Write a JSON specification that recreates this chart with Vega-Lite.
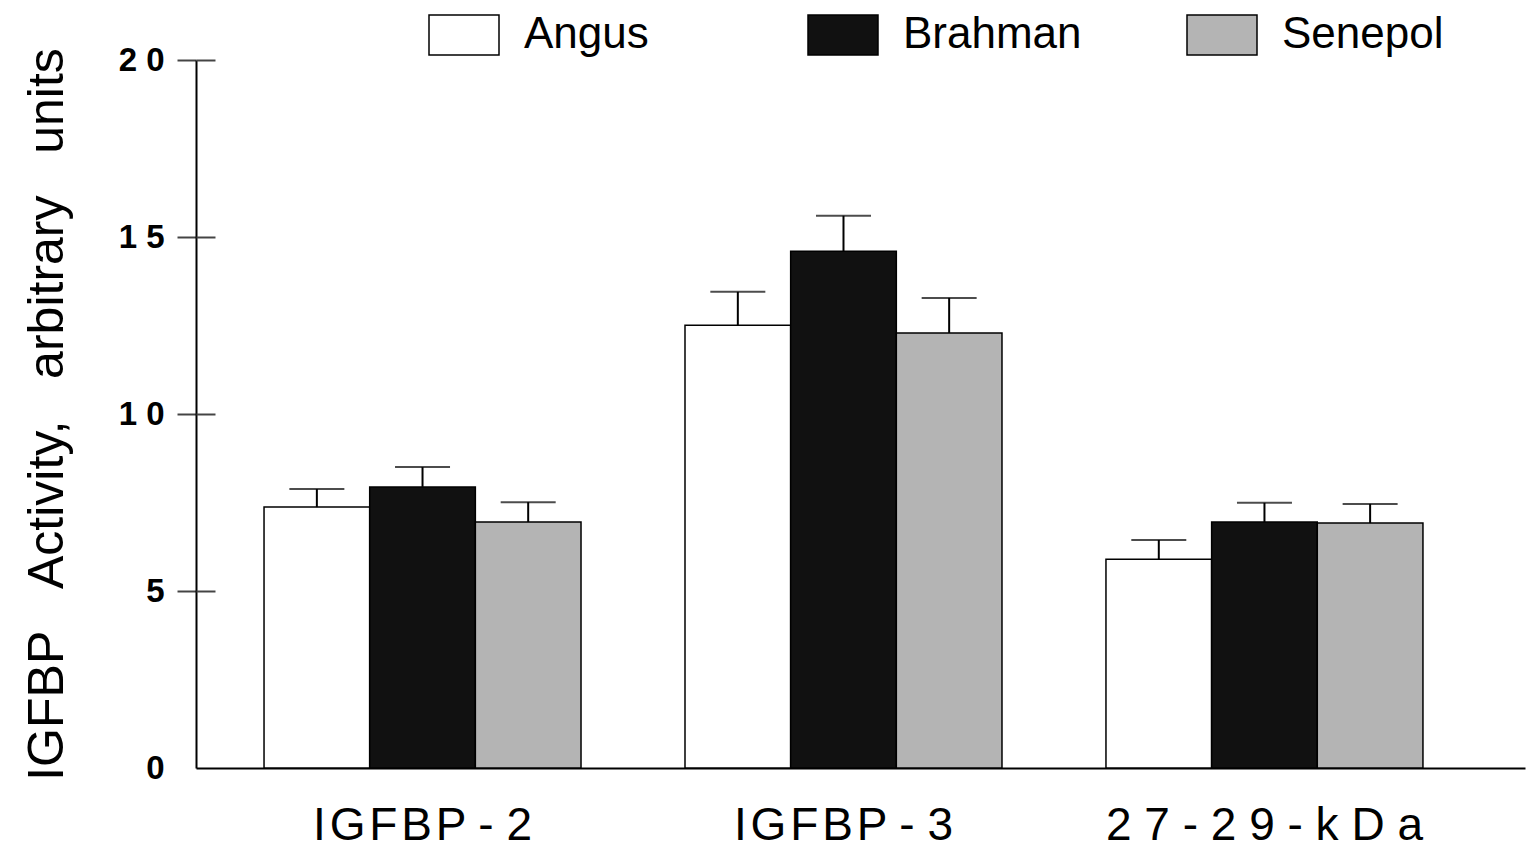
{
  "$schema": "https://vega.github.io/schema/vega-lite/v6.json",
  "autosize": "none",
  "width": 1329,
  "height": 708,
  "padding": {"left": 196, "top": 60, "right": 7, "bottom": 85},
  "background": "white",
  "config": {
    "font": "Liberation Sans",
    "view": {"stroke": null}
  },
  "data": {
    "values": [
      {"group": "IGFBP-2", "breed": "Angus", "mean": 7.37, "upper": 7.88},
      {"group": "IGFBP-2", "breed": "Brahman", "mean": 7.94, "upper": 8.5},
      {"group": "IGFBP-2", "breed": "Senepol", "mean": 6.95, "upper": 7.51},
      {"group": "IGFBP-3", "breed": "Angus", "mean": 12.51, "upper": 13.45},
      {"group": "IGFBP-3", "breed": "Brahman", "mean": 14.6, "upper": 15.6},
      {"group": "IGFBP-3", "breed": "Senepol", "mean": 12.29, "upper": 13.28},
      {"group": "27-29-kDa", "breed": "Angus", "mean": 5.9, "upper": 6.44},
      {"group": "27-29-kDa", "breed": "Brahman", "mean": 6.95, "upper": 7.49},
      {"group": "27-29-kDa", "breed": "Senepol", "mean": 6.92, "upper": 7.46}
    ]
  },
  "encoding": {
    "x": {
      "field": "group",
      "type": "nominal",
      "sort": ["IGFBP-2", "IGFBP-3", "27-29-kDa"],
      "scale": {"paddingInner": 0.247, "paddingOuter": 0.202, "align": 0.4},
      "axis": {
        "title": null,
        "labelAngle": 0,
        "ticks": false,
        "domainColor": "black",
        "domainWidth": 2,
        "labelFontSize": 46,
        "labelColor": "black",
        "labelPadding": 35,
        "labelLimit": 500,
        "labelExpr": "datum.label == '27-29-kDa' ? join(split(datum.label, ''), ' ') : replace(join(split(datum.label, ''), '\u200a'), '\u200a-\u200a', ' - ')"
      }
    },
    "xOffset": {
      "field": "breed",
      "type": "nominal",
      "sort": ["Angus", "Brahman", "Senepol"],
      "scale": {"paddingInner": 0, "paddingOuter": 0}
    }
  },
  "layer": [
    {
      "mark": {"type": "bar", "stroke": "black", "strokeWidth": 1.5},
      "encoding": {
        "y": {
          "field": "mean",
          "type": "quantitative",
          "scale": {"domain": [0, 20], "nice": false},
          "axis": {
            "title": "IGFBP\u00a0\u00a0\u00a0Activity,\u00a0\u00a0\u00a0arbitrary\u00a0\u00a0\u00a0units",
            "titleFontSize": 50,
            "titleFontWeight": "normal",
            "titleColor": "black",
            "titlePadding": 46,
            "values": [0, 5, 10, 15, 20],
            "grid": false,
            "domainColor": "black",
            "domainWidth": 2,
            "tickColor": "#444",
            "tickWidth": 2,
            "tickSize": 19,
            "tickOpacity": {"condition": {"test": "datum.value == 0", "value": 0}, "value": 1},
            "labelFontSize": 33,
            "labelFontWeight": "bold",
            "labelColor": "black",
            "labelPadding": 13,
            "labelExpr": "join(split(datum.label, ''), ' ')"
          }
        },
        "fill": {
          "field": "breed",
          "type": "nominal",
          "scale": {"domain": ["Angus", "Brahman", "Senepol"], "range": ["#ffffff", "#111111", "#b4b4b4"]},
          "legend": {
            "orient": "none",
            "legendX": 232,
            "legendY": -61,
            "direction": "horizontal",
            "columns": 3,
            "gridAlign": "all",
            "columnPadding": 102,
            "title": null,
            "symbolType": "M-1,-0.57L1,-0.57L1,0.57L-1,0.57Z",
            "symbolSize": 4900,
            "symbolStrokeColor": "black",
            "symbolStrokeWidth": 1.5,
            "symbolOpacity": 1,
            "labelFontSize": 44,
            "labelColor": "black",
            "labelOffset": 24,
            "labelLimit": 400
          }
        }
      }
    },
    {
      "mark": {"type": "rule", "color": "black", "strokeWidth": 2},
      "encoding": {
        "y": {"field": "mean", "type": "quantitative", "axis": null},
        "y2": {"field": "upper"}
      }
    },
    {
      "mark": {"type": "tick", "color": "black", "thickness": 2, "size": 55, "orient": "horizontal"},
      "encoding": {
        "y": {"field": "upper", "type": "quantitative", "axis": null}
      }
    },
    {
      "mark": {"type": "rule", "opacity": 0},
      "encoding": {
        "y": {
          "field": "mean",
          "type": "quantitative",
          "axis": {
            "orient": "left",
            "title": null,
            "labels": false,
            "domain": false,
            "grid": false,
            "values": [5, 10, 15, 20],
            "tickColor": "#444",
            "tickWidth": 2,
            "tickSize": -19
          }
        }
      }
    }
  ],
  "resolve": {"axis": {"y": "independent"}}
}
